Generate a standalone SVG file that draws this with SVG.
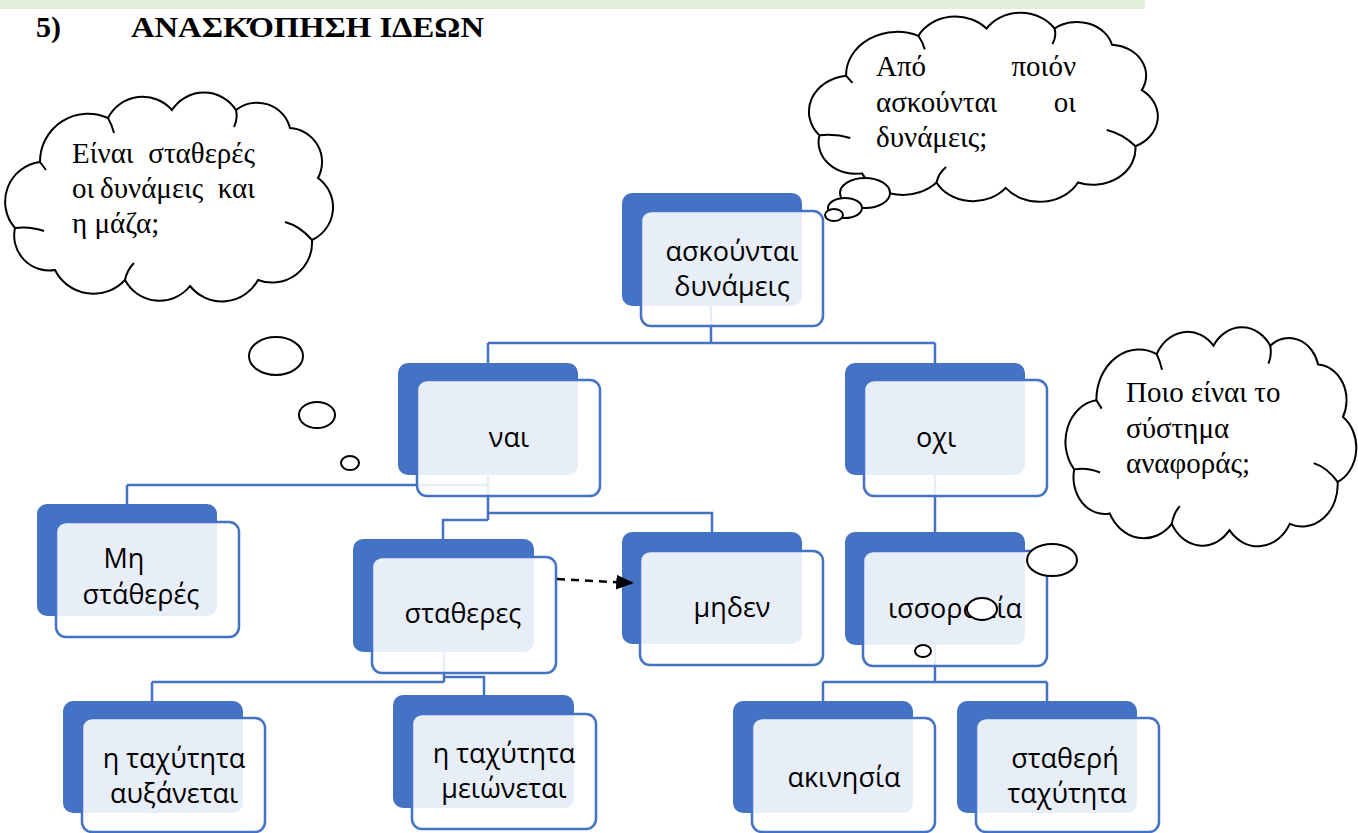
<svg xmlns="http://www.w3.org/2000/svg" width="1358" height="833" viewBox="0 0 1358 833">
<style>
.sh{fill:#4472C4}
.tx{fill:#fff;fill-opacity:.88;stroke:#4472C4;stroke-width:2.5}
.lbl{font-family:"Open Sans","Noto Sans",sans-serif;font-size:27px;fill:#000;text-anchor:middle}
.con{fill:none;stroke:#4472C4;stroke-width:2.5}
.cl{fill:#fff;stroke:#000;stroke-width:2;vector-effect:non-scaling-stroke}
.cli{fill:none;stroke:#000;stroke-width:2;vector-effect:non-scaling-stroke}
.bub{fill:#fff;stroke:#000;stroke-width:2}
.ct{font-family:"Liberation Serif","Times New Roman",serif;font-size:29px;fill:#000}
.ttl{font-family:"Liberation Serif","Times New Roman",serif;font-size:30px;font-weight:bold;fill:#000}
</style>
<defs>
<g id="cloud">
<path class="cl" d="M32,67 A48,48 0 0 1 100,23 A39,39 0 0 1 164,15 A38,38 0 0 1 228,15 A34,34 0 0 1 282,33 A34,34 0 0 1 310,83 A36,36 0 0 1 304,145 A40,40 0 0 1 250,185 A41,41 0 0 1 182,191 A39,39 0 0 1 117,185 A43,43 0 0 1 47,175 A35,35 0 0 1 7,133 A40,40 0 0 1 32,67 Z"/>
<path class="cli" d="M7,133 Q22,131 36,136 M304,145 Q292,131 277,127 M117,185 Q119,175 126,168 M228,15 Q230,24 226,32 M100,23 Q104,30 106,38 M32,67 Q35,71 38,75"/>
</g>
<marker id="ah" viewBox="0 0 10 10" refX="9" refY="5" markerWidth="7" markerHeight="6" orient="auto" markerUnits="strokeWidth" preserveAspectRatio="none">
<path d="M0,0 L10,5 L0,10 Z" fill="#000"/>
</marker>
</defs>
<rect x="0" y="0" width="1145" height="9" fill="#E2EFD9"/>
<text class="ttl" x="36" y="37">5)</text>
<text class="ttl" x="131" y="37" textLength="353" lengthAdjust="spacingAndGlyphs">ΑΝΑΣΚΌΠΗΣΗ ΙΔΕΩΝ</text>

<g id="connectors">
<path class="con" d="M711,305 V343 M488,343 H935 M488,343 V363 M935,343 V363"/>
<path class="con" d="M488,475 V520 M127,485 H488 M127,485 V504 M488,513 H712 V532 M488,520 H443 V540"/>
<path class="con" d="M935,475 V532"/>
<path class="con" d="M444,652 V682 M152,682 H444 M152,682 V701 M444,677 H484 V695"/>
<path class="con" d="M935,645 V682 M823,682 H1047 M823,682 V701 M1047,682 V701"/>
</g>

<g id="n1"><rect class="sh" x="622" y="193" width="180" height="113" rx="10"/><rect class="tx" x="641" y="211" width="182" height="115" rx="10"/><text class="lbl" x="732" y="261">ασκούνται</text><text class="lbl" x="732" y="296">δυνάμεις</text></g>
<g id="n2"><rect class="sh" x="398" y="363" width="180" height="112" rx="10"/><rect class="tx" x="417" y="380" width="183" height="116" rx="10"/><text class="lbl" x="509" y="447">ναι</text></g>
<g id="n3"><rect class="sh" x="845" y="363" width="180" height="112" rx="10"/><rect class="tx" x="864" y="380" width="183" height="116" rx="10"/><text class="lbl" x="936" y="447">οχι</text></g>
<g id="n4"><rect class="sh" x="37" y="504" width="180" height="112" rx="10"/><rect class="tx" x="56" y="522" width="183" height="115" rx="10"/><text class="lbl" x="124" y="568">Μη</text><text class="lbl" x="141" y="604">στάθερές</text></g>
<g id="n5"><rect class="sh" x="353" y="539" width="181" height="113" rx="10"/><rect class="tx" x="372" y="557" width="184" height="116" rx="10"/><text class="lbl" x="463" y="623">σταθερες</text></g>
<g id="n6"><rect class="sh" x="622" y="532" width="180" height="112" rx="10"/><rect class="tx" x="640" y="551" width="183" height="114" rx="10"/><text class="lbl" x="732" y="617">μηδεν</text></g>
<g id="n7"><rect class="sh" x="845" y="532" width="180" height="113" rx="10"/><rect class="tx" x="863" y="551" width="184" height="115" rx="10"/><text class="lbl" x="955" y="618">ισσοροπία</text></g>
<g id="n8"><rect class="sh" x="63" y="701" width="180" height="112" rx="10"/><rect class="tx" x="82" y="718" width="183" height="114" rx="10"/><text class="lbl" x="174" y="768">η ταχύτητα</text><text class="lbl" x="174" y="803">αυξάνεται</text></g>
<g id="n9"><rect class="sh" x="393" y="695" width="181" height="113" rx="10"/><rect class="tx" x="412" y="714" width="184" height="115" rx="10"/><text class="lbl" x="504" y="763">η ταχύτητα</text><text class="lbl" x="504" y="798">μειώνεται</text></g>
<g id="n10"><rect class="sh" x="733" y="701" width="180" height="112" rx="10"/><rect class="tx" x="752" y="718" width="183" height="114" rx="10"/><text class="lbl" x="844" y="787">ακινησία</text></g>
<g id="n11"><rect class="sh" x="957" y="701" width="180" height="112" rx="10"/><rect class="tx" x="976" y="718" width="183" height="114" rx="10"/><text class="lbl" x="1065" y="768">σταθερή</text><text class="lbl" x="1067" y="803">ταχύτητα</text></g>

<g id="arrow">
<path d="M557,579 L632,583" fill="none" stroke="#000" stroke-width="2.5" stroke-dasharray="8,6" marker-end="url(#ah)"/>
</g>

<g id="cloud1">
<use href="#cloud" transform="translate(8,95)"/>
<ellipse class="bub" cx="276" cy="356" rx="27" ry="19"/>
<ellipse class="bub" cx="317" cy="415" rx="18" ry="13"/>
<ellipse class="bub" cx="350" cy="463" rx="9" ry="7"/>
<text class="ct" x="72" y="163">Είναι</text><text class="ct" x="255" y="163" text-anchor="end">σταθερές</text>
<text class="ct" x="72" y="198">οι</text><text class="ct" x="100" y="198">δυνάμεις</text><text class="ct" x="255" y="198" text-anchor="end">και</text>
<text class="ct" x="72" y="233">η μάζα;</text>
</g>

<g id="cloud2">
<use href="#cloud" transform="translate(812,15) scale(1.064,0.905)"/>
<ellipse class="bub" cx="865" cy="193" rx="25" ry="15"/>
<ellipse class="bub" cx="845" cy="208" rx="17" ry="10"/>
<ellipse class="bub" cx="834" cy="215" rx="9" ry="6"/>
<text class="ct" x="876" y="76">Από</text><text class="ct" x="1076" y="76" text-anchor="end">ποιόν</text>
<text class="ct" x="876" y="112">ασκούνται</text><text class="ct" x="1076" y="112" text-anchor="end">οι</text>
<text class="ct" x="876" y="147">δυνάμεις;</text>
</g>

<g id="cloud3">
<use href="#cloud" transform="translate(1068,330) scale(0.887,1.048)"/>
<ellipse class="bub" cx="1052" cy="560" rx="25" ry="16"/>
<ellipse class="bub" cx="982" cy="609" rx="15" ry="11"/>
<ellipse class="bub" cx="923" cy="651" rx="8" ry="6"/>
<text class="ct" x="1126" y="402">Ποιο είναι το</text>
<text class="ct" x="1126" y="438">σύστημα</text>
<text class="ct" x="1126" y="473">αναφοράς;</text>
</g>
</svg>
